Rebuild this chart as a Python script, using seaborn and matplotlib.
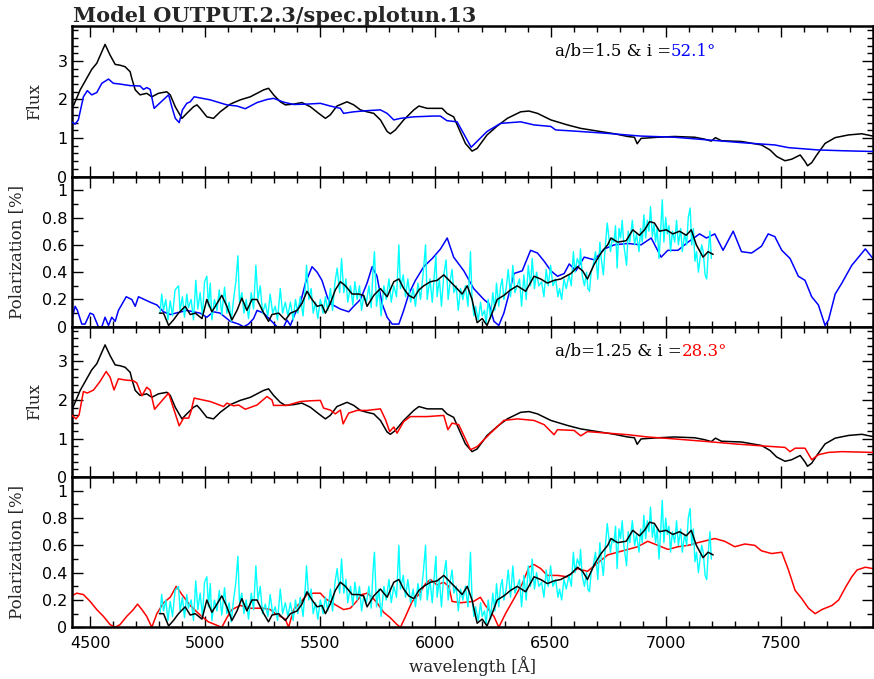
import matplotlib
matplotlib.use("Agg")
import matplotlib.pyplot as plt
from matplotlib.ticker import MultipleLocator, FuncFormatter
import pandas as pd
import seaborn as sns

# ---------------- data ----------------
# observed flux (smoothed spectrum), wavelength [A], flux
flux_obs = [
    (4420, 1.73), (4457, 2.25), (4507, 2.78), (4529, 2.94), (4565, 3.43), (4587, 3.15),
    (4609, 2.91), (4630, 2.89), (4652, 2.85), (4674, 2.72), (4681, 2.55), (4696, 2.25),
    (4717, 2.12), (4746, 2.16), (4768, 2.07), (4797, 2.16), (4833, 2.20), (4848, 2.12),
    (4870, 1.81), (4899, 1.51), (4920, 1.64), (4949, 1.81), (4964, 1.86), (4978, 1.77),
    (5007, 1.55), (5036, 1.51), (5065, 1.68), (5109, 1.88), (5152, 1.99), (5196, 2.07),
    (5225, 2.16), (5254, 2.25), (5275, 2.29), (5297, 2.12), (5326, 1.94), (5348, 1.86),
    (5384, 1.88), (5420, 1.92), (5457, 1.81), (5493, 1.64), (5522, 1.51), (5543, 1.60),
    (5572, 1.83), (5616, 1.94), (5645, 1.86), (5674, 1.73), (5703, 1.68), (5732, 1.64),
    (5761, 1.47), (5790, 1.17), (5804, 1.11), (5826, 1.21), (5862, 1.47), (5906, 1.73),
    (5928, 1.83), (5964, 1.77), (6007, 1.77), (6029, 1.77), (6050, 1.64), (6079, 1.55),
    (6101, 1.25), (6130, 0.86), (6159, 0.66), (6181, 0.73), (6224, 1.08), (6268, 1.31),
    (6312, 1.51), (6370, 1.68), (6406, 1.70), (6443, 1.64), (6501, 1.47), (6573, 1.34),
    (6631, 1.25), (6704, 1.18), (6777, 1.11), (6835, 1.04), (6864, 1.02), (6876, 0.85),
    (6893, 0.99), (6966, 1.02), (7038, 1.04), (7126, 1.02), (7169, 0.97), (7198, 0.92),
    (7216, 1.01), (7242, 0.93), (7329, 0.91), (7416, 0.82), (7453, 0.69), (7482, 0.52),
    (7518, 0.41), (7547, 0.45), (7584, 0.56), (7605, 0.39), (7616, 0.28), (7634, 0.36),
    (7656, 0.56), (7692, 0.86), (7736, 1.01), (7794, 1.08), (7852, 1.11), (7900, 1.05),
]

# model flux, a/b = 1.5, i = 52.1 deg
flux_model_a = [
    (4420, 1.42), (4435, 1.36), (4449, 1.47), (4471, 2.07), (4488, 2.23), (4507, 2.12),
    (4529, 2.18), (4551, 2.42), (4580, 2.53), (4601, 2.42), (4630, 2.40), (4674, 2.36),
    (4717, 2.35), (4732, 2.26), (4746, 2.31), (4761, 2.26), (4778, 1.77), (4841, 2.12),
    (4855, 1.81), (4870, 1.51), (4887, 1.40), (4901, 1.73), (4920, 1.90), (4935, 1.94),
    (4952, 2.07), (5022, 1.99), (5094, 1.86), (5138, 1.83), (5174, 1.76), (5225, 1.92),
    (5268, 2.00), (5297, 2.03), (5341, 1.93), (5384, 1.87), (5442, 1.88), (5500, 1.90),
    (5543, 1.83), (5587, 1.77), (5601, 1.64), (5645, 1.68), (5703, 1.71), (5761, 1.73),
    (5790, 1.64), (5819, 1.47), (5848, 1.51), (5906, 1.55), (5993, 1.57), (6021, 1.57),
    (6050, 1.45), (6094, 1.42), (6155, 0.76), (6224, 1.17), (6283, 1.38), (6370, 1.42),
    (6428, 1.34), (6501, 1.30), (6522, 1.21), (6602, 1.18), (6748, 1.12), (6893, 1.05),
    (7038, 1.02), (7184, 0.95), (7329, 0.88), (7474, 0.82), (7533, 0.75), (7663, 0.69),
    (7765, 0.67), (7900, 0.65),
]

# model flux, a/b = 1.25, i = 28.3 deg
flux_model_b = [
    (4420, 1.61), (4439, 1.51), (4452, 1.61), (4471, 2.22), (4488, 2.18), (4515, 2.26),
    (4543, 2.48), (4570, 2.74), (4587, 2.59), (4604, 2.26), (4623, 2.55), (4652, 2.52),
    (4688, 2.50), (4703, 2.44), (4725, 2.11), (4746, 2.33), (4761, 2.26), (4780, 1.76),
    (4841, 2.18), (4862, 1.79), (4887, 1.33), (4906, 1.53), (4928, 1.53), (4938, 1.70),
    (4952, 2.05), (5022, 1.96), (5080, 1.83), (5094, 1.92), (5123, 1.85), (5145, 1.87),
    (5174, 1.76), (5225, 1.87), (5268, 2.09), (5290, 2.00), (5297, 1.86), (5355, 1.86),
    (5413, 1.96), (5457, 1.98), (5500, 1.99), (5514, 1.79), (5543, 1.74), (5565, 1.64),
    (5587, 1.74), (5599, 1.38), (5623, 1.66), (5659, 1.73), (5703, 1.73), (5761, 1.77),
    (5783, 1.49), (5801, 1.18), (5819, 1.30), (5833, 1.14), (5862, 1.44), (5891, 1.57),
    (5964, 1.57), (6036, 1.60), (6054, 1.23), (6072, 1.40), (6101, 1.36), (6152, 0.71),
    (6181, 0.79), (6239, 1.14), (6297, 1.47), (6355, 1.51), (6428, 1.47), (6472, 1.36),
    (6515, 1.10), (6530, 1.23), (6602, 1.21), (6631, 1.07), (6660, 1.18), (6748, 1.14),
    (6835, 1.10), (6922, 1.04), (7038, 0.99), (7184, 0.92), (7300, 0.86), (7416, 0.81),
    (7518, 0.77), (7540, 0.66), (7562, 0.75), (7605, 0.75), (7634, 0.45), (7663, 0.58),
    (7707, 0.64), (7765, 0.66), (7900, 0.64),
]

# observed polarization [%], raw
pol_obs_raw = [
    (4804, 0.10), (4811, 0.24), (4819, 0.12), (4829, 0.20), (4838, 0.05), (4848, 0.19),
    (4858, 0.08), (4869, 0.27), (4884, 0.30), (4891, 0.12), (4901, 0.22), (4910, 0.07),
    (4920, 0.24), (4927, 0.14), (4939, 0.20), (4949, 0.05), (4959, 0.34), (4968, 0.13),
    (4978, 0.25), (4988, 0.08), (4997, 0.33), (5007, 0.37), (5014, 0.15), (5022, 0.32),
    (5029, 0.05), (5040, 0.20), (5051, 0.12), (5061, 0.27), (5072, 0.09), (5084, 0.29),
    (5094, 0.10), (5104, 0.18), (5113, 0.04), (5123, 0.20), (5133, 0.33), (5142, 0.52),
    (5149, 0.18), (5159, 0.25), (5168, 0.10), (5178, 0.20), (5188, 0.06), (5200, 0.25),
    (5210, 0.13), (5220, 0.45), (5229, 0.20), (5239, 0.30), (5249, 0.10), (5261, 0.17),
    (5272, 0.08), (5282, 0.24), (5293, 0.10), (5304, 0.15), (5314, 0.05), (5326, 0.28),
    (5336, 0.10), (5348, 0.18), (5359, 0.08),
    (5370, 0.18), (5382, 0.05), (5392, 0.20), (5402, 0.10), (5413, 0.22), (5425, 0.08),
    (5435, 0.30), (5440, 0.45), (5450, 0.20), (5460, 0.28), (5469, 0.10), (5479, 0.18),
    (5489, 0.06), (5500, 0.20), (5512, 0.10), (5522, 0.22), (5532, 0.12), (5544, 0.28),
    (5553, 0.12), (5563, 0.32), (5573, 0.43), (5584, 0.25), (5592, 0.50), (5602, 0.25),
    (5611, 0.35), (5619, 0.18), (5631, 0.30), (5641, 0.16), (5650, 0.33), (5660, 0.20),
    (5670, 0.30), (5679, 0.12), (5689, 0.23), (5700, 0.18), (5711, 0.30), (5721, 0.14),
    (5729, 0.42), (5735, 0.55), (5744, 0.15), (5754, 0.28), (5764, 0.08), (5776, 0.30),
    (5786, 0.20), (5798, 0.35), (5808, 0.18), (5819, 0.30), (5831, 0.22), (5841, 0.60),
    (5848, 0.28), (5860, 0.38), (5870, 0.22), (5880, 0.35), (5892, 0.18), (5903, 0.28),
    (5913, 0.15), (5924, 0.32), (5935, 0.20), (5947, 0.40), (5957, 0.60), (5964, 0.20),
    (5976, 0.35), (5986, 0.18), (5996, 0.40),
    (6002, 0.52), (6007, 0.22), (6017, 0.35), (6026, 0.15), (6036, 0.38), (6046, 0.49),
    (6055, 0.20), (6065, 0.35), (6072, 0.42), (6080, 0.25), (6090, 0.30), (6099, 0.12),
    (6109, 0.28), (6119, 0.20), (6130, 0.30), (6141, 0.15), (6152, 0.55), (6159, 0.20),
    (6167, 0.08), (6174, 0.15), (6186, 0.05), (6196, 0.18), (6203, 0.08), (6213, 0.12),
    (6220, 0.02), (6229, 0.20), (6239, 0.06), (6249, 0.25), (6258, 0.12), (6265, 0.32),
    (6275, 0.15), (6283, 0.30), (6290, 0.35), (6297, 0.20), (6307, 0.28), (6316, 0.42),
    (6326, 0.22), (6336, 0.45), (6345, 0.25), (6355, 0.30), (6365, 0.35), (6374, 0.15),
    (6384, 0.38), (6394, 0.20), (6403, 0.45), (6413, 0.30), (6420, 0.50), (6430, 0.28),
    (6439, 0.40), (6449, 0.30), (6461, 0.33), (6471, 0.22), (6481, 0.42), (6490, 0.30),
    (6500, 0.45), (6510, 0.30), (6522, 0.35), (6532, 0.22), (6539, 0.28), (6548, 0.20),
    (6558, 0.35), (6568, 0.28), (6580, 0.38), (6590, 0.30), (6599, 0.55), (6606, 0.40),
    (6616, 0.50), (6626, 0.45),
    (6630, 0.57), (6637, 0.38), (6647, 0.30), (6656, 0.40), (6662, 0.28), (6669, 0.26),
    (6676, 0.40), (6685, 0.45), (6695, 0.55), (6705, 0.35), (6714, 0.62), (6720, 0.50),
    (6729, 0.38), (6739, 0.62), (6746, 0.76), (6760, 0.55), (6768, 0.65), (6775, 0.62),
    (6782, 0.74), (6789, 0.43), (6797, 0.72), (6804, 0.65), (6811, 0.78), (6818, 0.60),
    (6830, 0.45), (6837, 0.70), (6844, 0.62), (6855, 0.78), (6865, 0.60), (6873, 0.68),
    (6884, 0.55), (6891, 0.72), (6898, 0.62), (6905, 0.82), (6913, 0.65), (6920, 0.78),
    (6927, 0.70), (6934, 0.88), (6942, 0.66), (6949, 0.75), (6956, 0.62), (6963, 0.72),
    (6971, 0.50), (6978, 0.70), (6985, 0.93), (6992, 0.62), (7000, 0.80), (7007, 0.68),
    (7014, 0.74), (7021, 0.55), (7029, 0.70), (7039, 0.62), (7047, 0.78), (7055, 0.60),
    (7065, 0.72), (7072, 0.55), (7082, 0.68), (7091, 0.60), (7098, 0.80), (7106, 0.87),
    (7113, 0.60), (7120, 0.72), (7127, 0.48), (7134, 0.55), (7142, 0.40), (7149, 0.50),
    (7156, 0.60), (7163, 0.55), (7171, 0.38), (7178, 0.35), (7185, 0.55), (7192, 0.70),
    (7198, 0.50),
]

# observed polarization [%], smoothed
pol_obs_smooth = [
    (4801, 0.10), (4819, 0.10), (4841, 0.01), (4862, 0.05), (4884, 0.10), (4913, 0.15),
    (4935, 0.09), (4957, 0.10), (4986, 0.06), (5007, 0.20), (5029, 0.11), (5051, 0.17),
    (5072, 0.23), (5094, 0.15), (5116, 0.05), (5138, 0.12), (5159, 0.21), (5181, 0.12),
    (5203, 0.20), (5225, 0.20), (5254, 0.10), (5275, 0.04), (5290, 0.09), (5319, 0.10),
    (5348, 0.05), (5370, 0.10), (5399, 0.12), (5420, 0.17), (5442, 0.26), (5464, 0.20),
    (5486, 0.15), (5507, 0.16), (5522, 0.10), (5543, 0.17), (5565, 0.27), (5587, 0.33),
    (5609, 0.30), (5638, 0.24), (5667, 0.24), (5688, 0.23), (5703, 0.15), (5732, 0.23),
    (5761, 0.28), (5790, 0.22), (5819, 0.33), (5841, 0.35), (5862, 0.28), (5884, 0.23),
    (5906, 0.21), (5928, 0.27), (5949, 0.30), (5978, 0.33), (6007, 0.34), (6036, 0.38),
    (6065, 0.33), (6094, 0.28), (6116, 0.24), (6138, 0.30), (6159, 0.20), (6181, 0.03),
    (6203, 0.06), (6224, 0.01), (6246, 0.10), (6268, 0.20), (6297, 0.23), (6326, 0.27),
    (6355, 0.30), (6392, 0.26), (6428, 0.37), (6457, 0.35), (6486, 0.32), (6515, 0.34),
    (6544, 0.35), (6588, 0.39), (6617, 0.44), (6639, 0.41), (6660, 0.35), (6690, 0.46),
    (6719, 0.54), (6748, 0.60), (6762, 0.65), (6791, 0.62), (6828, 0.63), (6857, 0.71),
    (6886, 0.67), (6908, 0.71), (6930, 0.77), (6951, 0.76), (6973, 0.70), (7002, 0.71),
    (7031, 0.68), (7060, 0.70), (7089, 0.67), (7111, 0.71), (7133, 0.60), (7162, 0.51),
    (7184, 0.55), (7206, 0.53),
]

# model polarization, a/b = 1.5, i = 52.1 deg
pol_model_a = [
    (4420, 0.05), (4435, 0.15), (4445, 0.12), (4464, 0.02), (4478, 0.02), (4500, 0.10),
    (4514, 0.09), (4536, 0.00), (4551, 0.00), (4565, 0.07), (4580, 0.01), (4594, 0.07),
    (4609, 0.04), (4623, 0.12), (4657, 0.22), (4681, 0.20), (4696, 0.15), (4710, 0.22),
    (4761, 0.18), (4790, 0.16), (4819, 0.11), (4848, 0.09), (4920, 0.12), (4978, 0.10),
    (5007, 0.07), (5036, 0.11), (5065, 0.10), (5109, 0.04), (5145, 0.02), (5167, 0.00),
    (5188, 0.02), (5210, 0.06), (5225, 0.12), (5254, 0.10), (5283, 0.05), (5312, 0.00),
    (5341, 0.00), (5355, 0.05), (5370, 0.01), (5391, 0.10), (5413, 0.17), (5435, 0.32),
    (5464, 0.44), (5486, 0.40), (5507, 0.34), (5530, 0.22), (5543, 0.17), (5565, 0.15),
    (5587, 0.13), (5623, 0.11), (5645, 0.15), (5674, 0.20), (5703, 0.32), (5725, 0.44),
    (5746, 0.37), (5768, 0.17), (5790, 0.07), (5812, 0.02), (5841, 0.02), (5862, 0.12),
    (5884, 0.24), (5913, 0.34), (5949, 0.44), (5986, 0.50), (6022, 0.57), (6051, 0.65),
    (6079, 0.51), (6123, 0.41), (6166, 0.28), (6210, 0.20), (6232, 0.17), (6254, 0.04),
    (6275, 0.01), (6297, 0.10), (6319, 0.24), (6341, 0.39), (6377, 0.41), (6413, 0.56),
    (6443, 0.54), (6472, 0.48), (6501, 0.41), (6530, 0.37), (6559, 0.39), (6581, 0.46),
    (6610, 0.41), (6646, 0.51), (6690, 0.49), (6733, 0.57), (6777, 0.60), (6835, 0.61),
    (6893, 0.60), (6937, 0.65), (6980, 0.51), (7009, 0.56), (7053, 0.56), (7097, 0.62),
    (7147, 0.68), (7177, 0.65), (7213, 0.68), (7249, 0.56), (7293, 0.70), (7329, 0.55),
    (7373, 0.54), (7416, 0.59), (7445, 0.68), (7474, 0.66), (7504, 0.56), (7540, 0.50),
    (7576, 0.37), (7605, 0.34), (7634, 0.22), (7663, 0.16), (7692, 0.01), (7707, 0.05),
    (7736, 0.24), (7765, 0.32), (7808, 0.45), (7867, 0.57), (7900, 0.50),
]

# model polarization, a/b = 1.25, i = 28.3 deg
pol_model_b = [
    (4420, 0.23), (4442, 0.25), (4471, 0.24), (4500, 0.19), (4529, 0.13), (4558, 0.08),
    (4587, 0.02), (4609, 0.00), (4630, 0.02), (4659, 0.08), (4688, 0.13), (4706, 0.17),
    (4725, 0.13), (4746, 0.08), (4768, 0.00), (4790, 0.10), (4819, 0.18), (4848, 0.22),
    (4874, 0.30), (4899, 0.24), (4935, 0.16), (4978, 0.09), (5014, 0.04), (5043, 0.02),
    (5072, 0.00), (5094, 0.07), (5116, 0.13), (5152, 0.16), (5196, 0.14), (5254, 0.14),
    (5283, 0.13), (5304, 0.10), (5326, 0.08), (5348, 0.06), (5362, 0.00), (5384, 0.13),
    (5413, 0.18), (5442, 0.24), (5471, 0.25), (5500, 0.25), (5522, 0.21), (5551, 0.18),
    (5580, 0.15), (5601, 0.13), (5630, 0.14), (5652, 0.18), (5681, 0.24), (5703, 0.25),
    (5725, 0.22), (5746, 0.18), (5775, 0.11), (5804, 0.07), (5833, 0.02), (5848, 0.00),
    (5870, 0.08), (5899, 0.19), (5928, 0.24), (5957, 0.32), (5978, 0.35), (6007, 0.31),
    (6036, 0.33), (6058, 0.30), (6072, 0.19), (6109, 0.18), (6166, 0.19), (6195, 0.22),
    (6217, 0.16), (6254, 0.08), (6275, 0.00), (6304, 0.10), (6341, 0.21), (6377, 0.32),
    (6406, 0.44), (6428, 0.46), (6457, 0.43), (6486, 0.38), (6530, 0.38), (6573, 0.37),
    (6617, 0.43), (6660, 0.41), (6704, 0.47), (6748, 0.53), (6791, 0.55), (6835, 0.57),
    (6878, 0.59), (6922, 0.63), (6966, 0.60), (7010, 0.57), (7053, 0.59), (7097, 0.60),
    (7140, 0.62), (7213, 0.65), (7256, 0.63), (7300, 0.59), (7344, 0.61), (7387, 0.60),
    (7416, 0.56), (7460, 0.54), (7504, 0.55), (7533, 0.42), (7562, 0.27), (7591, 0.21),
    (7620, 0.14), (7649, 0.10), (7678, 0.13), (7722, 0.16), (7751, 0.20), (7780, 0.29),
    (7808, 0.37), (7831, 0.42), (7867, 0.44), (7900, 0.43),
]

title_text = "Model OUTPUT.2.3/spec.plotun.13"
label_a = ("a/b=1.5 & i =", "52.1°")
label_b = ("a/b=1.25 & i =", "28.3°")

BLUE = "#0000ff"
RED = "#ff0000"
CYAN = "#00ffff"
BLACK = "#000000"

# ---------------- style ----------------
sns.set_style("ticks")
plt.rcParams["font.family"] = ["DejaVu Sans"]
SERIF = ["DejaVu Serif"]


def frame(df_pairs, col):
    return pd.DataFrame(df_pairs, columns=["wavelength", col])


def draw(ax, pairs, col, color, lw=1.1, z=2):
    sns.lineplot(data=frame(pairs, col), x="wavelength", y=col, ax=ax,
                 color=color, linewidth=lw, estimator=None, sort=False,
                 zorder=z, legend=False)


fig = plt.figure(figsize=(8.74, 6.79), dpi=100)
left, width = 0.0820, 0.9168
height = 0.2213
bottom0 = 0.0761
axes = [fig.add_axes([left, bottom0 + (3 - k) * height, width, height]) for k in range(4)]

num_fmt = FuncFormatter(lambda v, p: f"{v:g}")

for k, ax in enumerate(axes):
    ax.set_xlim(4420, 7900)
    ax.xaxis.set_major_locator(MultipleLocator(500))
    ax.xaxis.set_minor_locator(MultipleLocator(100))
    ax.tick_params(axis="both", which="both", direction="in", top=True, right=True,
                   width=1.0, labelsize=11.5, colors="black")
    ax.tick_params(axis="both", which="major", length=8)
    ax.tick_params(axis="both", which="minor", length=4)
    ax.tick_params(axis="y", pad=3)
    ax.tick_params(axis="x", pad=6)
    for sp in ax.spines.values():
        sp.set_linewidth(1.8)
        sp.set_color("black")
    if k % 2 == 0:
        ax.set_ylim(0, 3.9)
        ax.yaxis.set_major_locator(MultipleLocator(1))
        ax.yaxis.set_minor_locator(MultipleLocator(0.2))
    else:
        ax.set_ylim(0, 1.1)
        ax.yaxis.set_major_locator(MultipleLocator(0.2))
        ax.yaxis.set_minor_locator(MultipleLocator(0.1))
    ax.yaxis.set_major_formatter(num_fmt)

# flux panels
draw(axes[0], flux_obs, "flux", BLACK, z=2)
draw(axes[0], flux_model_a, "flux", BLUE, z=3)
draw(axes[2], flux_obs, "flux", BLACK, z=2)
draw(axes[2], flux_model_b, "flux", RED, z=3)

# polarization panels
draw(axes[1], pol_model_a, "pol", BLUE, z=2)
draw(axes[1], pol_obs_raw, "pol", CYAN, lw=1.0, z=3)
draw(axes[1], pol_obs_smooth, "pol", BLACK, z=4)
draw(axes[3], pol_model_b, "pol", RED, z=2)
draw(axes[3], pol_obs_raw, "pol", CYAN, lw=1.0, z=3)
draw(axes[3], pol_obs_smooth, "pol", BLACK, z=4)

for k, ax in enumerate(axes):
    if k % 2 == 0:
        ax.set_ylabel("Flux", family=SERIF, fontsize=12)
        ax.yaxis.set_label_coords(-0.036, 0.5)
    else:
        ax.set_ylabel("Polarization [%]", family=SERIF, fontsize=12)
        ax.yaxis.set_label_coords(-0.058, 0.5)
    if k < 3:
        ax.tick_params(axis="x", labelbottom=False)
        ax.set_xlabel("")

axes[3].set_xlabel("wavelength [Å]", family=SERIF, fontsize=12, labelpad=4)

# model parameter labels
for ax, (txt, val), col in ((axes[0], label_a, BLUE), (axes[2], label_b, RED)):
    t = ax.text(0.603, 0.835, txt, transform=ax.transAxes, va="center", ha="left",
                family=SERIF, fontsize=12, color="black")
    ax.annotate(val, xy=(1, 0), xycoords=t, va="bottom", ha="left",
                family=SERIF, fontsize=12, color=col)

fig.text(0.083, 0.9676, title_text, family=SERIF, fontsize=15, weight="bold",
         va="baseline", ha="left")

fig.savefig("out.png", dpi=100)
